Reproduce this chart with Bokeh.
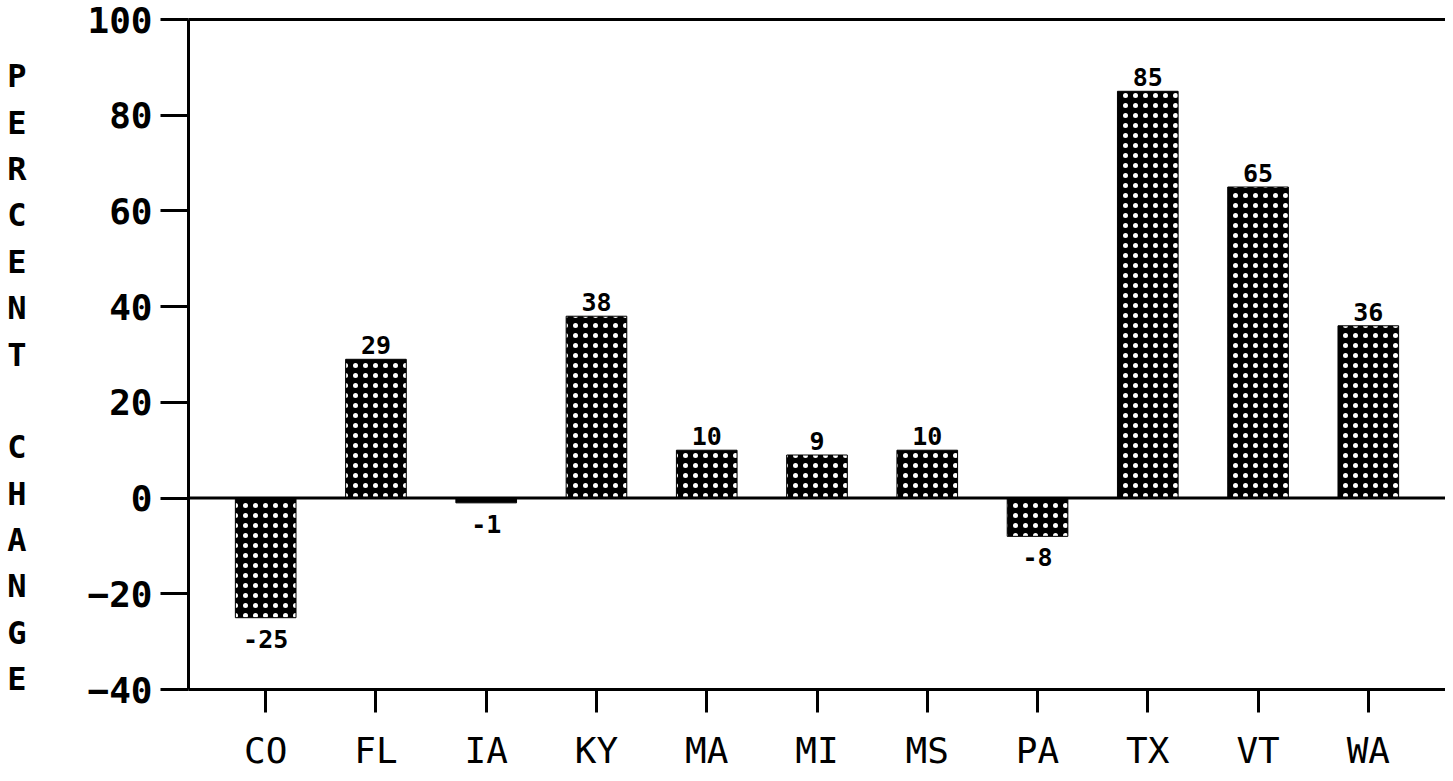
from bokeh.plotting import figure
from bokeh.models import (FactorRange, Range1d, CategoricalAxis, FixedTicker, Span,
                          ColumnDataSource)
from bokeh.core.properties import value
from bokeh.embed import file_html
from bokeh.resources import INLINE

# ---- data ----
states = ["CO", "FL", "IA", "KY", "MA", "MI", "MS", "PA", "TX", "VT", "WA"]
pct_change = [-25, 29, -1, 38, 10, 9, 10, -8, 85, 65, 36]
y_ticks = [-40, -20, 0, 20, 40, 60, 80, 100]
y_title = "PERCENT CHANGE"

FONT = "DejaVu Sans Mono"

p = figure(
    width=1445, height=773,
    x_range=FactorRange(factors=states, range_padding=0.2, range_padding_units="absolute"),
    y_range=Range1d(-40, 100),
    output_backend="svg", toolbar_location=None,
    min_border_left=188, min_border_right=0, min_border_top=19, min_border_bottom=82,
    x_axis_location="below",
)
p.background_fill_color = "white"
p.border_fill_color = "white"
p.outline_line_color = None
p.xgrid.grid_line_color = None
p.ygrid.grid_line_color = None

# y axis
ya = p.yaxis[0]
ya.ticker = FixedTicker(ticks=y_ticks)
ya.axis_line_width = 3
ya.axis_line_color = "black"
ya.major_tick_line_width = 3
ya.major_tick_in = 0
ya.major_tick_out = 28
ya.minor_tick_line_color = None
ya.major_label_standoff = 8
ya.major_label_text_font = FONT
ya.major_label_text_font_style = "bold"
ya.major_label_text_font_size = "36px"
ya.major_label_text_color = "black"
# stacked y title (leading blank line nudges the block down like the original)
ya.axis_label = "\n" + "\n".join(ch if ch != " " else "" for ch in y_title)
ya.axis_label_orientation = "horizontal"
ya.axis_label_standoff = 58
ya.axis_label_text_font = FONT
ya.axis_label_text_font_style = "bold"
ya.axis_label_text_font_size = "32px"
ya.axis_label_text_line_height = 1.22
ya.axis_label_text_color = "black"

# x axis
xa = p.xaxis[0]
xa.axis_line_width = 3
xa.axis_line_color = "black"
xa.major_tick_line_width = 3
xa.major_tick_in = 0
xa.major_tick_out = 23
xa.minor_tick_line_color = None
xa.major_label_standoff = 17
xa.major_label_text_font = FONT
xa.major_label_text_font_style = "normal"
xa.major_label_text_font_size = "36px"
xa.major_label_text_color = "black"

# top line
top_axis = CategoricalAxis(ticker=FixedTicker(ticks=[]), axis_line_width=3, axis_line_color="black",
                           major_tick_line_color=None, minor_tick_line_color=None)
p.add_layout(top_axis, "above")

# zero line
p.add_layout(Span(location=0, dimension="width", line_color="black", line_width=3))

# bars
src = ColumnDataSource(dict(x=states, top=pct_change))
p.vbar(x="x", top="top", bottom=0, width=0.55, source=src,
       fill_color="black", line_color="black", line_width=1,
       hatch_pattern="dot", hatch_color="white", hatch_scale=10, hatch_weight=1)

# value labels
pos = [(s, v) for s, v in zip(states, pct_change) if v >= 0]
neg = [(s, v) for s, v in zip(states, pct_change) if v < 0]
psrc = ColumnDataSource(dict(x=[a for a, _ in pos], y=[b for _, b in pos], t=[str(b) for _, b in pos]))
nsrc = ColumnDataSource(dict(x=[a for a, _ in neg], y=[b for _, b in neg], t=[str(b) for _, b in neg]))
p.text(x="x", y="y", text="t", source=psrc, text_align="center", text_baseline="bottom",
       y_offset=-5, text_font=value(FONT), text_font_style="bold", text_font_size="25px",
       text_color="black")
p.text(x="x", y="y", text="t", source=nsrc, text_align="center", text_baseline="top",
       y_offset=12, text_font=value(FONT), text_font_style="bold", text_font_size="25px",
       text_color="black")

open("out.html", "w").write(file_html(p, INLINE))
